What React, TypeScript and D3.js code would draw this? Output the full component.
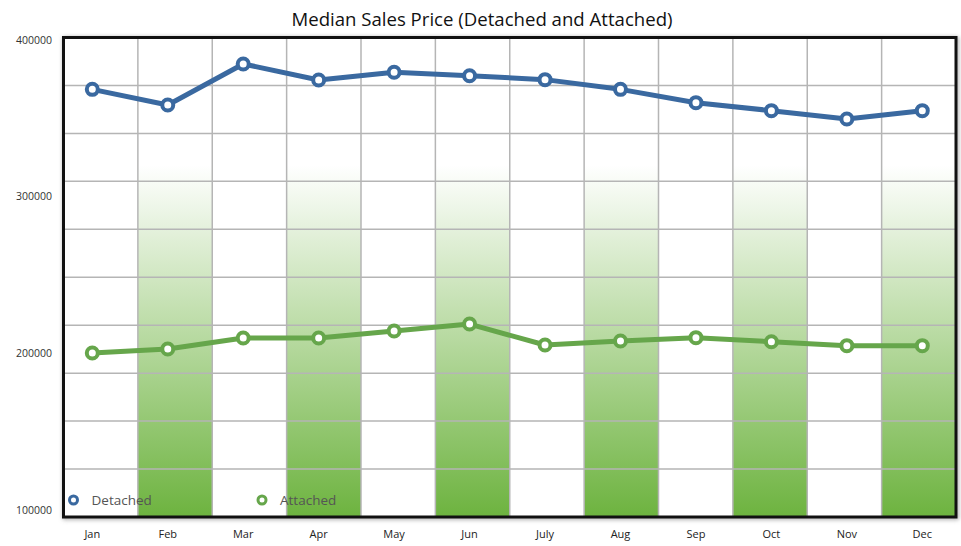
import React from "react";
import * as d3 from "d3";

const months = ["Jan", "Feb", "Mar", "Apr", "May", "Jun", "July", "Aug", "Sep", "Oct", "Nov", "Dec"];
const detached = [368500, 358500, 384700, 374500, 379400, 377200, 374700, 368500, 360000, 354900, 349600, 354900];
const attached = [200200, 202800, 209800, 209800, 214300, 218700, 205300, 207900, 210000, 207400, 204900, 204900];
const yTicks = [100000, 200000, 300000, 400000];
const seriesNames = ["Detached", "Attached"];
const seriesColors = ["#3a69a0", "#66a64b"];
const title = "Median Sales Price (Detached and Attached)";

const W = 961;
const H = 546;
const plot = { left: 63.5, right: 956, top: 37.5, bottom: 517 };

export default function App() {
  const cols = d3.scaleBand<number>().domain(d3.range(months.length)).range([plot.left, plot.right]).padding(0);
  const x = d3.scalePoint<string>().domain(months).range([92.3, 922.3]);
  const y = d3.scaleLinear().domain([100000, 400000]).range([510, 40]);
  const gridY = d3.scaleLinear().domain([0, 10]).range([plot.top, plot.bottom]);
  const line = d3
    .line<number>()
    .x((_, i) => x(months[i]) as number)
    .y((d) => y(d));
  const series = [detached, attached];
  const font = "'Open Sans', 'Noto Sans', sans-serif";

  return (
    <svg width={W} height={H} style={{ position: "absolute", left: 0, top: 0, background: "#fff" }}>
      <defs>
        <linearGradient id="band" x1="0" y1={165} x2="0" y2={plot.bottom} gradientUnits="userSpaceOnUse">
          <stop offset="0" stopColor="#6db33f" stopOpacity={0} />
          <stop offset="1" stopColor="#6db33f" stopOpacity={1} />
        </linearGradient>
        <filter id="shadow" x="-5%" y="-5%" width="110%" height="110%">
          <feGaussianBlur stdDeviation="2" />
        </filter>
      </defs>
      <text x={482} y={26} textAnchor="middle" fontFamily={font} fontSize={18.6} fill="#111">
        {title}
      </text>
      <rect
        x={plot.left + 1}
        y={plot.top + 1}
        width={plot.right - plot.left}
        height={plot.bottom - plot.top}
        fill="none"
        stroke="#999"
        strokeWidth={3}
        filter="url(#shadow)"
      />
      <rect x={plot.left} y={plot.top} width={plot.right - plot.left} height={plot.bottom - plot.top} fill="#fff" />
      {months.map((m, i) =>
        i % 2 === 1 ? (
          <rect key={m} x={cols(i)} y={165} width={cols.bandwidth()} height={plot.bottom - 165} fill="url(#band)" />
        ) : null
      )}
      {d3.range(1, 10).map((k) => (
        <line key={"h" + k} x1={plot.left} x2={plot.right} y1={gridY(k)} y2={gridY(k)} stroke="#b5b5b5" strokeWidth={1.5} />
      ))}
      {d3.range(1, months.length).map((i) => (
        <line key={"v" + i} x1={cols(i)} x2={cols(i)} y1={plot.top} y2={plot.bottom} stroke="#b5b5b5" strokeWidth={1.5} />
      ))}
      <rect
        x={plot.left}
        y={plot.top}
        width={plot.right - plot.left}
        height={plot.bottom - plot.top}
        fill="none"
        stroke="#111"
        strokeWidth={3}
      />
      {yTicks.map((t) => (
        <text key={t} x={52} y={y(t)} dy="0.35em" textAnchor="end" fontFamily={font} fontSize={10.5} fill="#333">
          {t}
        </text>
      ))}
      {months.map((m) => (
        <text key={m} x={x(m)} y={538} textAnchor="middle" fontFamily={font} fontSize={11} fill="#222">
          {m}
        </text>
      ))}
      {series.map((s, si) => (
        <g key={si}>
          <path d={line(s) as string} fill="none" stroke={seriesColors[si]} strokeWidth={5} strokeLinejoin="round" />
          {s.map((v, i) => (
            <circle key={i} cx={x(months[i])} cy={y(v)} r={5.5} fill="#fff" stroke={seriesColors[si]} strokeWidth={4} />
          ))}
        </g>
      ))}
      {seriesNames.map((n, i) => (
        <g key={n} transform={`translate(${73.5 + i * 188.5},500)`}>
          <circle cx={0} cy={0} r={4} fill="#fff" stroke={seriesColors[i]} strokeWidth={3} />
          <text x={18} y={0} dy="0.35em" fontFamily={font} fontSize={13.5} fill="#555">
            {n}
          </text>
        </g>
      ))}
    </svg>
  );
}
